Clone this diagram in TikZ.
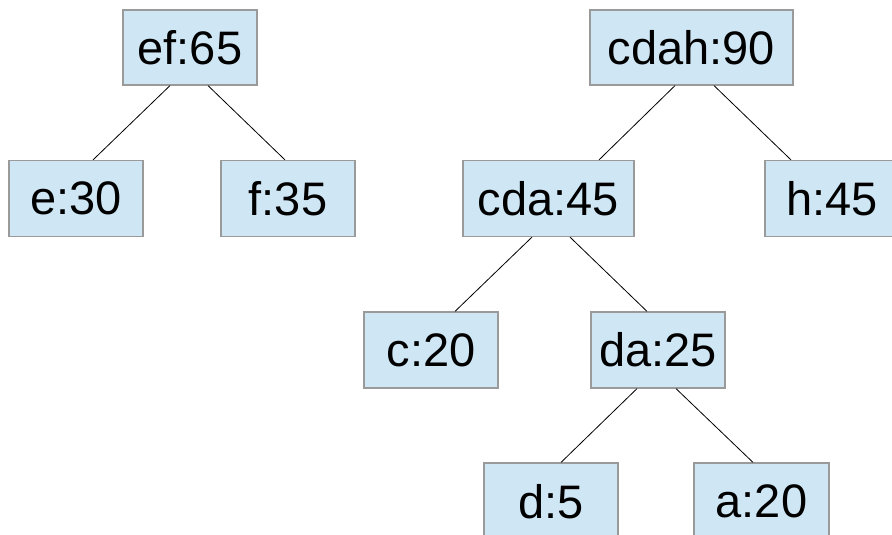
\documentclass[tikz,border=0pt]{standalone}
\usepackage{fontspec}
\setmainfont{Liberation Sans}
\usetikzlibrary{calc}
\definecolor{boxfill}{HTML}{CFE7F5}
\definecolor{boxline}{HTML}{9A9A9A}
\begin{document}
\begin{tikzpicture}[x=1pt,y=-1pt,
  tn/.style={draw=boxline,fill=boxfill,line width=1.2pt,minimum height=76pt,inner sep=0pt,
    font=\fontsize{47}{52}\selectfont},
  w134/.style={minimum width=134pt},
  edge/.style={draw=black,line width=0.8pt}]
\useasboundingbox (0,0) rectangle (892,535);
\begin{scope}
\clip (0,0) rectangle (892,535);
\node[tn,w134,minimum height=75pt] (ef) at (190,47.5) {ef:65};
\node[tn,w134] (e) at (76,198.5) {e:30};
\node[tn,w134] (f) at (288,198.5) {f:35};
\node[tn,minimum width=203pt,minimum height=75pt] (cdah) at (691.5,47.5) {cdah:90};
\node[tn,minimum width=171pt] (cda) at (548.5,198.5) {cda:45};
\node[tn,w134] (h) at (832,198.5) {h:45};
\node[tn,w134] (c) at (431,350) {c:20};
\node[tn,w134] (da) at (658,350) {da:25};
\node[tn,w134,minimum height=77pt] (d) at (551,501.5) {d:5};
\node[tn,minimum width=135pt,minimum height=77pt] (a) at (761.5,501.5) {a:20};
\end{scope}
\draw[edge] ($(ef.south)+(-20,0)$) -- ($(e.north)+(17,0)$);
\draw[edge] ($(ef.south)+(18,0)$) -- ($(f.north)+(-3,0)$);
\draw[edge] ($(cdah.south)+(-16.5,0)$) -- ($(cda.north)+(50.5,0)$);
\draw[edge] ($(cdah.south)+(22.5,0)$) -- ($(h.north)+(-41,0)$);
\draw[edge] ($(cda.south)+(-16.5,0)$) -- ($(c.north)+(24,0)$);
\draw[edge] ($(cda.south)+(21.5,0)$) -- ($(da.north)+(-11,0)$);
\draw[edge] ($(da.south)+(-21,0)$) -- ($(d.north)+(10,0)$);
\draw[edge] ($(da.south)+(18,0)$) -- ($(a.north)+(-8.5,0)$);
\end{tikzpicture}
\end{document}
